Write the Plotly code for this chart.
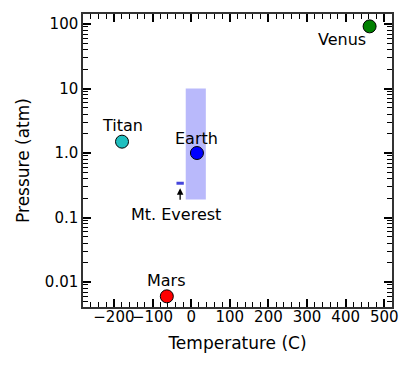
import numpy as np
import plotly.graph_objects as go

planets = ["Venus", "Earth", "Titan", "Mars"]
temps = [462, 15, -179, -63]
pressures = [92, 1.0, 1.5, 0.006]
colors = ["#008000", "#0000ff", "#1fbfbf", "#ff0000"]
label_dx = [-28, 0, 0, 0]
label_dy = [-13, 15, 16, 16]

earth_range_t = [-14, 38]
earth_range_p = [0.19, 10]
everest_t = [-38, -19]
everest_p = 0.34

XRANGE = [-280, 520]
YRANGE = [0.0041, 143]
ytickvals = [0.01, 0.1, 1.0, 10, 100]
yticktext = ["0.01", "0.1", "1.0", "10", "100"]
xtickvals = [-200, -100, 0, 100, 200, 300, 400, 500]
yminor = [m * 10.0 ** e for e in range(-3, 3) for m in range(2, 10)
          if YRANGE[0] <= m * 10.0 ** e <= YRANGE[1]]

FONT = "DejaVu Sans"
TICK = "black"
YR = [np.log10(YRANGE[0]), np.log10(YRANGE[1])]

fig = go.Figure()

fig.add_shape(type="rect", xref="x", yref="y",
              x0=earth_range_t[0], x1=earth_range_t[1],
              y0=earth_range_p[0], y1=earth_range_p[1],
              fillcolor="rgba(60,60,245,0.36)", line_width=0, layer="below")

fig.add_trace(go.Scatter(x=everest_t, y=[everest_p, everest_p], mode="lines",
                         line=dict(color="rgb(70,70,220)", width=3), showlegend=False))

fig.add_trace(go.Scatter(x=temps, y=pressures, mode="markers",
                         marker=dict(size=13, color=colors, line=dict(color="black", width=1)),
                         showlegend=False))

fig.add_trace(go.Scatter(x=[], y=[], xaxis="x2", yaxis="y2", showlegend=False, hoverinfo="skip"))

for name, t, p, dx, dy in zip(planets, temps, pressures, label_dx, label_dy):
    fig.add_annotation(x=t, y=np.log10(p), text=name, showarrow=False,
                       xshift=dx, yshift=dy, font=dict(family=FONT, size=16, color="black"))

ev_mid = (everest_t[0] + everest_t[1]) / 2
fig.add_annotation(x=ev_mid, y=np.log10(everest_p) - 0.078, text="", showarrow=True,
                   ax=0, ay=13, arrowhead=2, arrowsize=1, arrowwidth=1.3, arrowcolor="black")
fig.add_annotation(x=ev_mid, y=np.log10(everest_p), text="Mt. Everest", showarrow=False,
                   xshift=-4, yshift=-31, font=dict(family=FONT, size=16, color="black"))

line_common = dict(showgrid=False, zeroline=False, showline=True, linecolor="#333333",
                   linewidth=1.5, automargin=False)
tick_common = dict(mirror="allticks", ticks="inside", ticklen=8, tickcolor=TICK, tickwidth=1.6)

fig.update_layout(
    xaxis=dict(range=XRANGE, tickvals=xtickvals,
               ticktext=[("\u2212" + str(-v)) if v < 0 else str(v) for v in xtickvals],
               ticklabelstandoff=-5, tickangle=0, tickfont=dict(family=FONT, size=15, color="black"),
               title=dict(text="Temperature (C)", font=dict(family=FONT, size=17, color="black"), standoff=12),
               **line_common, **tick_common),
    yaxis=dict(type="log", range=YR, tickvals=ytickvals, ticktext=yticktext,
               tickfont=dict(family=FONT, size=15, color="black"),
               title=dict(text="Pressure (atm)", font=dict(family=FONT, size=17, color="black"), standoff=11),
               **line_common, **tick_common),
    xaxis2=dict(overlaying="x", side="top", range=XRANGE, tickmode="linear", tick0=0, dtick=100,
                showticklabels=False,
                minor=dict(ticks="inside", tick0=0, dtick=20, ticklen=5, tickcolor=TICK, tickwidth=1.2),
                **line_common, **tick_common),
    yaxis2=dict(overlaying="y", side="right", type="log", range=YR, tickmode="linear", dtick=1,
                showticklabels=False,
                minor=dict(ticks="inside", tickvals=yminor, ticklen=5, tickcolor=TICK, tickwidth=1.2),
                **line_common, **tick_common),
)

fig.update_layout(width=405, height=357, margin=dict(l=75, r=21, t=6, b=58),
                  plot_bgcolor="white", paper_bgcolor="white",
                  font=dict(family=FONT, color="black"))

fig.write_html("out.html")
